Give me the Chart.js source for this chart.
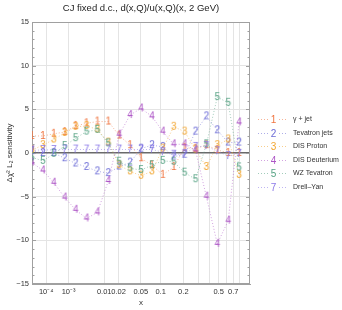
<!DOCTYPE html>
<html>
<head>
<meta charset="utf-8">
<script src="https://cdn.jsdelivr.net/npm/chart.js@4.4.1/dist/chart.umd.min.js"></script>
<style>
  html, body { margin: 0; padding: 0; background: #fff; }
  #wrap { width: 342px; height: 310px; position: relative; }
</style>
</head>
<body>
<div id="wrap"><canvas id="chart"></canvas></div>
<script>
// x sample points (same for every series)
const xPoints = [1e-5, 6.41e-5, 2.476e-4, 7.167e-4, 1.721e-3, 3.626e-3, 6.934e-3, 0.01231, 0.0206, 0.03284,
                 0.05033, 0.07457, 0.1074, 0.1508, 0.2073, 0.2796, 0.3707, 0.4843, 0.624, 0.7944];

const gammaJet   = [1.95, 1.95, 2.2, 2.4, 3.1, 3.4, 3.6, 3.6, 2.0, 0.9, -0.6, -1.4, -2.5, -1.6, 0.6, 0.5, 0.9, 0.35, 0.0, 0.0];
const tevJets    = [0.2, 0.0, 0.0, -0.6, -1.2, -1.6, -2.1, -2.3, -1.55, -1.1, 0.5, 0.9, 0.7, -0.4, -0.2, 2.45, 4.2, 2.6, 1.2, 1.2];
const disProton  = [0.35, 0.9, 1.55, 2.3, 3.0, 3.1, 2.7, 1.2, -1.4, -2.1, -2.6, -2.1, 0.5, 3.0, 2.45, 0.4, -1.6, 0.9, 1.55, -2.5];
const disDeut    = [-1.1, -2.0, -3.4, -5.1, -6.5, -7.5, -6.8, -3.2, 2.1, 4.35, 5.1, 4.2, 2.45, 1.0, 1.0, 0.3, -5.0, -10.4, -7.75, 3.5];
const wzTev      = [-0.5, -0.9, -0.1, 0.8, 1.7, 2.45, 2.65, 1.1, -1.0, -1.75, -1.95, -1.4, -0.9, -1.0, -2.25, -3.0, 1.0, 6.4, 5.75, -1.65];
const drellYan   = [0.3, 0.35, 0.35, 0.4, 0.4, 0.4, 0.4, 0.4, 0.4, 0.4, 0.4, 0.4, 0.1, -0.2, -0.1, 0.7, 0.8, 0.2, -0.35, -0.1];

const seriesNames  = ['γ + jet', 'Tevatron jets', 'DIS Proton', 'DIS Deuterium', 'WZ Tevatron', 'Drell–Yan'];
const seriesMarks  = ['1', '2', '3', '4', '5', '7'];
const seriesValues = [gammaJet, tevJets, disProton, disDeut, wzTev, drellYan];
const seriesColors = ['#f0743f', '#6a6ad6', '#f2a52e', '#ad55c6', '#55a283', '#8a78e8'];

const xTickValues = [1e-4, 1e-3, 0.01, 0.02, 0.05, 0.1, 0.2, 0.5, 0.7];
const xTickLabels = ['10⁻⁴', '10⁻³', '0.01', '0.02', '0.05', '0.1', '0.2', '0.5', '0.7'];
const xExtraGrid  = [0.3, 0.4, 0.6, 0.8];
const xMin = 1e-5, xMax = 1;
const yMin = -15, yMax = 15;

const EXP = 0.2; // axis is linear in x^0.2

class PowerScale extends Chart.Scale {
  determineDataLimits() {
    this.min = this.options.min;
    this.max = this.options.max;
  }
  buildTicks() {
    return xTickValues.concat(xExtraGrid).sort((a, b) => a - b).map(v => ({ value: v }));
  }
  configure() {
    super.configure();
    this._start = Math.pow(this.min, EXP);
    this._range = Math.pow(this.max, EXP) - this._start;
  }
  getPixelForValue(v) {
    return this.getPixelForDecimal((Math.pow(v, EXP) - this._start) / this._range);
  }
  getValueForPixel(p) {
    return Math.pow(this._start + this.getDecimalForPixel(p) * this._range, 1 / EXP);
  }
}
PowerScale.id = 'power';
PowerScale.defaults = {};
Chart.register(PowerScale);

const FONT = '"Liberation Sans", Arial, sans-serif';

function alpha(hex, a) {
  const n = parseInt(hex.slice(1), 16);
  return `rgba(${n >> 16}, ${(n >> 8) & 255}, ${n & 255}, ${a})`;
}

// digit marker drawn as a little canvas
function markCanvas(txt, color) {
  const c = document.createElement('canvas');
  c.width = 10; c.height = 12;
  const g = c.getContext('2d');
  g.font = '10px ' + FONT;
  g.fillStyle = color;
  g.textAlign = 'center';
  g.textBaseline = 'middle';
  g.fillText(txt, 5, 6.5);
  return c;
}

const datasets = seriesValues.map((vals, i) => ({
  label: seriesNames[i],
  data: xPoints.map((x, k) => ({ x: x, y: vals[k] })),
  borderColor: alpha(seriesColors[i], 0.55),
  borderWidth: 1,
  borderDash: [1, 2],
  pointStyle: markCanvas(seriesMarks[i], seriesColors[i]),
  pointRadius: 4,
  tension: 0,
  order: seriesValues.length - i
}));

// frame, inward ticks and the legend
const framePlugin = {
  id: 'framePlugin',
  beforeDatasetsDraw(chart) {
    const { ctx, chartArea: a, scales: { y } } = chart;
    ctx.save();
    ctx.strokeStyle = '#a0a0a0';
    ctx.lineWidth = 1;
    ctx.strokeRect(Math.round(a.left) + 0.5, Math.round(a.top) + 0.5,
                   Math.round(a.width) - 1, Math.round(a.height) - 1);
    ctx.beginPath();
    for (let v = yMin + 1; v < yMax; v++) {
      const py = Math.round(y.getPixelForValue(v)) + 0.5;
      const len = v % 5 === 0 ? 4 : 2.5;
      ctx.moveTo(a.left, py); ctx.lineTo(a.left + len, py);
      ctx.moveTo(a.right, py); ctx.lineTo(a.right - len, py);
    }
    ctx.stroke();
    ctx.restore();
  },
  afterDraw(chart) {
    const { ctx, chartArea: a } = chart;
    const cy = (a.top + a.bottom) / 2;
    const step = 13.6;
    ctx.save();
    seriesNames.forEach((name, i) => {
      const yy = Math.round(cy + (i - (seriesNames.length - 1) / 2) * step) + 0.5;
      ctx.strokeStyle = alpha(seriesColors[i], 0.55);
      ctx.setLineDash([1, 2]);
      ctx.beginPath();
      ctx.moveTo(a.right + 8, yy); ctx.lineTo(a.right + 37, yy);
      ctx.stroke();
      ctx.setLineDash([]);
      ctx.fillStyle = '#fff';
      ctx.fillRect(a.right + 20, yy - 5, 7, 10);
      ctx.font = '10px ' + FONT;
      ctx.fillStyle = seriesColors[i];
      ctx.textAlign = 'center';
      ctx.textBaseline = 'middle';
      ctx.fillText(seriesMarks[i], a.right + 23.5, yy + 0.5);
      ctx.font = '7px ' + FONT;
      ctx.fillStyle = '#333';
      ctx.textAlign = 'left';
      ctx.fillText(name, a.right + 43, yy);
    });
    ctx.restore();
  }
};

new Chart(document.getElementById('chart'), {
  type: 'line',
  data: { datasets },
  options: {
    responsive: true,
    maintainAspectRatio: false,
    animation: false,
    devicePixelRatio: 1,
    layout: { padding: { left: 0, right: 92, top: 0, bottom: 0 } },
    plugins: {
      legend: { display: false },
      tooltip: { enabled: false },
      title: {
        display: true,
        fullSize: false,
        text: 'CJ fixed d.c., d(x,Q)/u(x,Q)(x, 2 GeV)',
        color: '#222',
        font: { family: FONT, size: 9.5, weight: 'normal' },
        padding: { top: 3, bottom: 7.6 }
      }
    },
    scales: {
      x: {
        type: 'power',
        min: xMin,
        max: xMax,
        afterFit: (s) => { s.height = 26; },
        grid: { color: '#e4e4e4', drawTicks: false },
        border: { display: true, color: '#a0a0a0' },
        ticks: {
          autoSkip: false,
          maxRotation: 0,
          padding: 3,
          color: '#333',
          font: { family: FONT, size: 7.5 },
          callback: (v) => {
            const i = xTickValues.indexOf(v);
            return i >= 0 ? xTickLabels[i] : '';
          }
        },
        title: {
          display: true,
          text: 'x',
          color: '#333',
          font: { family: FONT, size: 8 },
          padding: { top: 0, bottom: 2 }
        }
      },
      y: {
        min: yMin,
        max: yMax,
        afterFit: (s) => { s.width = 32; },
        grid: {
          drawTicks: false,
          color: (c) => {
            const v = c.tick.value;
            if (v === 0) return '#6a6a6a';
            return (v % 5 === 0 && Math.abs(v) !== 15) ? '#e4e4e4' : 'rgba(0,0,0,0)';
          },
          lineWidth: (c) => c.tick.value === 0 ? 1.4 : 1
        },
        border: { display: true, color: '#a0a0a0' },
        ticks: {
          stepSize: 1,
          autoSkip: false,
          padding: 3,
          color: '#333',
          font: { family: FONT, size: 7.5 },
          callback: (v) => v % 5 === 0 ? (v < 0 ? '−' + (-v) : String(v)) : ''
        },
        title: {
          display: true,
          text: 'Δχ² L₂ sensitivity',
          color: '#333',
          font: { family: FONT, size: 8 },
          padding: { top: 5, bottom: 0 }
        }
      }
    }
  },
  plugins: [framePlugin]
});
</script>
</body>
</html>
